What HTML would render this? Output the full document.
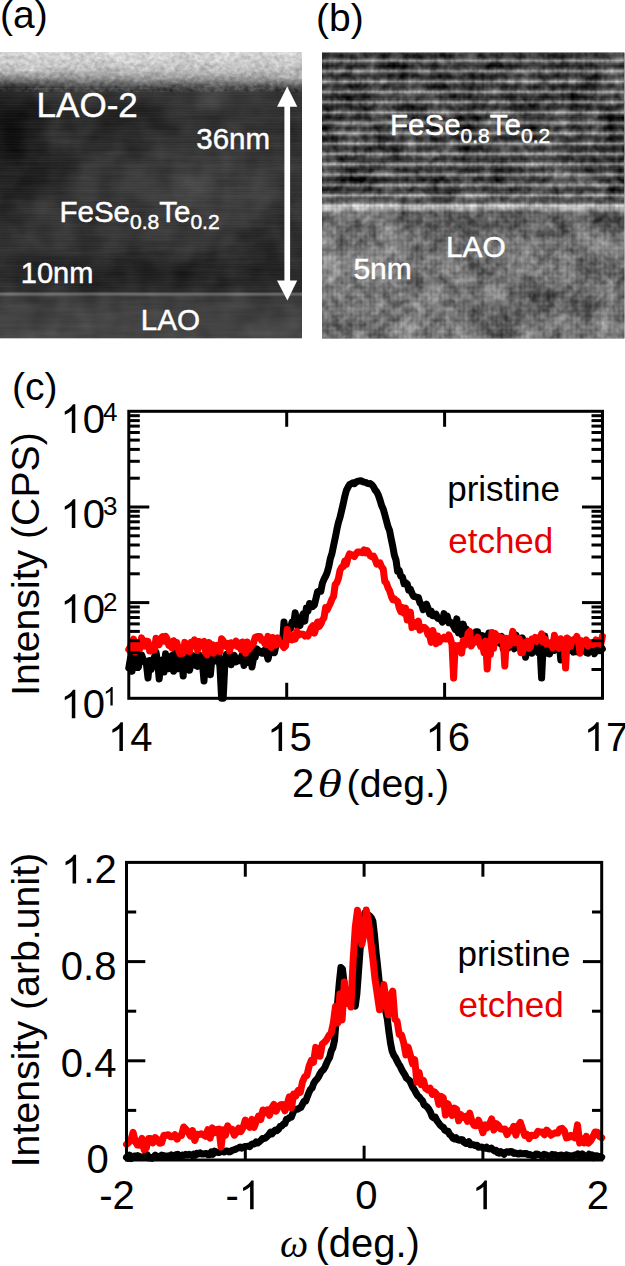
<!DOCTYPE html>
<html><head><meta charset="utf-8"><style>
html,body{margin:0;padding:0;background:#fff;width:625px;height:1266px;overflow:hidden}
svg{display:block}
text{font-family:"Liberation Sans", sans-serif}
text[fill="#fff"]{stroke:#fff;stroke-width:0.45px}
</style></head><body>
<svg width="625" height="1266" viewBox="0 0 625 1266">
<defs>
<filter id="grainA" x="0" y="0" width="100%" height="100%" color-interpolation-filters="sRGB"><feTurbulence type="fractalNoise" baseFrequency="0.015 0.25" numOctaves="3" seed="3" result="n"/><feColorMatrix in="n" type="matrix" values="1 0 0 0 0  1 0 0 0 0  1 0 0 0 0  0 0 0 0 1" result="g"/><feTurbulence type="fractalNoise" baseFrequency="0.04" numOctaves="2" seed="9" result="n2"/><feColorMatrix in="n2" type="matrix" values="1 0 0 0 0  1 0 0 0 0  1 0 0 0 0  0 0 0 0 1" result="g2"/><feComposite in="SourceGraphic" in2="g" operator="arithmetic" k1="0" k2="1" k3="0.06" k4="-0.03" result="s1"/><feComposite in="s1" in2="g2" operator="arithmetic" k1="0" k2="1" k3="0.12" k4="-0.06"/></filter>
<filter id="grainB" x="0" y="0" width="100%" height="100%" color-interpolation-filters="sRGB"><feTurbulence type="fractalNoise" baseFrequency="0.13" numOctaves="2" seed="5" result="n"/><feColorMatrix in="n" type="matrix" values="1 0 0 0 0  1 0 0 0 0  1 0 0 0 0  0 0 0 0 1" result="g"/><feTurbulence type="fractalNoise" baseFrequency="0.035" numOctaves="2" seed="12" result="n2"/><feColorMatrix in="n2" type="matrix" values="1 0 0 0 0  1 0 0 0 0  1 0 0 0 0  0 0 0 0 1" result="g2"/><feComposite in="SourceGraphic" in2="g" operator="arithmetic" k1="0" k2="1" k3="0.4" k4="-0.2" result="s1"/><feComposite in="s1" in2="g2" operator="arithmetic" k1="0" k2="1" k3="0.42" k4="-0.21"/></filter>
<filter id="fineA" x="0" y="0" width="100%" height="100%" color-interpolation-filters="sRGB"><feTurbulence type="fractalNoise" baseFrequency="0.2 0.25" numOctaves="2" seed="21" result="n"/><feColorMatrix in="n" type="matrix" values="1 0 0 0 0  1 0 0 0 0  1 0 0 0 0  0 0 0 0 1" result="g"/><feComposite in="SourceGraphic" in2="g" operator="arithmetic" k1="0" k2="1" k3="0.3" k4="-0.15"/></filter>
</defs>
<rect width="625" height="1266" fill="#fff"/>
<clipPath id="ca"><rect x="0" y="52" width="302" height="286.5"/></clipPath>
<g clip-path="url(#ca)"><g filter="url(#grainA)">
<linearGradient id="ga" x1="0" y1="52" x2="0" y2="338.5" gradientUnits="userSpaceOnUse"><stop offset="0.0000" stop-color="#d6d6d6"/><stop offset="0.0349" stop-color="#cacaca"/><stop offset="0.0698" stop-color="#b8b8b8"/><stop offset="0.0873" stop-color="#a6a6a6"/><stop offset="0.1012" stop-color="#8e8e8e"/><stop offset="0.1152" stop-color="#686868"/><stop offset="0.1291" stop-color="#464646"/><stop offset="0.1431" stop-color="#333333"/><stop offset="0.2024" stop-color="#2e2e2e"/><stop offset="0.5166" stop-color="#333333"/><stop offset="0.6911" stop-color="#303030"/><stop offset="0.8168" stop-color="#282828"/><stop offset="0.8360" stop-color="#2e2e2e"/><stop offset="0.8447" stop-color="#727272"/><stop offset="0.8551" stop-color="#3a3a3a"/><stop offset="0.9005" stop-color="#424242"/><stop offset="1.0000" stop-color="#464646"/></linearGradient>
<rect x="0" y="52" width="302" height="286.5" fill="url(#ga)"/>
<radialGradient id="dk"><stop offset="0" stop-color="#000" stop-opacity="0.6"/><stop offset="0.6" stop-color="#000" stop-opacity="0.3"/><stop offset="1" stop-color="#000" stop-opacity="0"/></radialGradient>
<radialGradient id="lt"><stop offset="0" stop-color="#fff" stop-opacity="0.07"/><stop offset="1" stop-color="#fff" stop-opacity="0"/></radialGradient>
<linearGradient id="topL" x1="0" y1="0" x2="1" y2="0"><stop offset="0" stop-color="#000" stop-opacity="0.35"/><stop offset="0.5" stop-color="#000" stop-opacity="0.1"/><stop offset="1" stop-color="#000" stop-opacity="0"/></linearGradient>
<linearGradient id="topV" x1="0" y1="0" x2="0" y2="1"><stop offset="0" stop-color="#fff" stop-opacity="0"/><stop offset="1" stop-color="#fff" stop-opacity="1"/></linearGradient>
<mask id="tm" maskUnits="userSpaceOnUse" x="0" y="70" width="302" height="18"><rect x="0" y="70" width="302" height="18" fill="url(#topV)"/></mask>
<rect x="0" y="52" width="302" height="40" fill="url(#ga)" filter="url(#fineA)"/>
<rect x="0" y="70" width="302" height="18" fill="url(#topL)" mask="url(#tm)"/>
<ellipse cx="8" cy="160" rx="45" ry="85" fill="url(#dk)" opacity="0.8"/>
<ellipse cx="12" cy="125" rx="45" ry="45" fill="url(#dk)" opacity="0.9"/>
<ellipse cx="45" cy="165" rx="40" ry="28" fill="url(#dk)" opacity="0.6"/>
<ellipse cx="120" cy="125" rx="80" ry="35" fill="url(#dk)" opacity="0.45"/>
<ellipse cx="150" cy="272" rx="180" ry="22" fill="url(#dk)" opacity="0.5"/>
<ellipse cx="270" cy="250" rx="45" ry="40" fill="url(#dk)" opacity="0.5"/>
<ellipse cx="200" cy="190" rx="110" ry="70" fill="url(#lt)"/>
<ellipse cx="210" cy="100" rx="60" ry="18" fill="url(#lt)"/>
<pattern id="scan" x="0" y="0" width="8" height="2.6" patternUnits="userSpaceOnUse"><rect x="0" y="0" width="8" height="1" fill="#fff" opacity="0.035"/></pattern>
<rect x="0" y="90" width="302" height="200" fill="url(#scan)"/>
</g></g>
<rect x="284.4" y="100" width="5.7" height="186" fill="#fff"/>
<polygon points="287.2,86.5 277.1,106.7 297.3,106.7" fill="#fff"/>
<polygon points="287.4,300.5 277,280.5 297.2,280.5" fill="#fff"/>
<text x="36.6" y="116.5" font-size="35" fill="#fff" >LAO-2</text>
<text x="196.3" y="149.2" font-size="29.5" fill="#fff" >36nm</text>
<text x="59.5" y="221.7" font-size="29.5" fill="#fff" >FeSe<tspan font-size="21" dy="7.2">0.8</tspan><tspan dy="-7.2">Te</tspan><tspan font-size="21" dy="7.2">0.2</tspan></text>
<text x="20.8" y="282.6" font-size="29" fill="#fff" >10nm</text>
<text x="140.8" y="330" font-size="29.6" fill="#fff" >LAO</text>
<clipPath id="cb"><rect x="322" y="52.5" width="302.5" height="286"/></clipPath>
<g clip-path="url(#cb)"><g filter="url(#grainB)">
<linearGradient id="gb" x1="0" y1="52.5" x2="0" y2="338.5" gradientUnits="userSpaceOnUse"><stop offset="0.0000" stop-color="#2c2c2c"/><stop offset="0.4563" stop-color="#2e2e2e"/><stop offset="0.4913" stop-color="#3a3a3a"/><stop offset="0.5227" stop-color="#5a5a5a"/><stop offset="0.5350" stop-color="#cacaca"/><stop offset="0.5455" stop-color="#b0b0b0"/><stop offset="0.5612" stop-color="#666666"/><stop offset="0.5927" stop-color="#5e5e5e"/><stop offset="0.6556" stop-color="#7a7a7a"/><stop offset="1.0000" stop-color="#787878"/></linearGradient>
<rect x="322" y="52.5" width="302.5" height="286" fill="url(#gb)"/>
<linearGradient id="fr" x1="0" y1="0" x2="0" y2="1"><stop offset="0" stop-color="#000" stop-opacity="0.25"/><stop offset="0.22" stop-color="#fff" stop-opacity="0.08"/><stop offset="0.5" stop-color="#fff" stop-opacity="0.52"/><stop offset="0.78" stop-color="#fff" stop-opacity="0.08"/><stop offset="1" stop-color="#000" stop-opacity="0.25"/></linearGradient>
<pattern id="fringe" x="322" y="55.625" width="302.5" height="10.35" patternUnits="userSpaceOnUse"><rect width="302.5" height="10.35" fill="url(#fr)"/></pattern>
<linearGradient id="fmask" x1="0" y1="52.5" x2="0" y2="338.5" gradientUnits="userSpaceOnUse"><stop offset="0.0000" stop-color="#fff"/><stop offset="0.5017" stop-color="#fff"/><stop offset="0.5262" stop-color="#fff" stop-opacity="0"/></linearGradient>
<mask id="fm" maskUnits="userSpaceOnUse" x="322" y="52.5" width="302.5" height="286"><rect x="322" y="52.5" width="302.5" height="286" fill="url(#fmask)"/></mask>
<rect x="322" y="52.5" width="302.5" height="286" fill="url(#fringe)" mask="url(#fm)"/>
<radialGradient id="ltb"><stop offset="0" stop-color="#fff" stop-opacity="0.14"/><stop offset="1" stop-color="#fff" stop-opacity="0"/></radialGradient>
<radialGradient id="dkb"><stop offset="0" stop-color="#000" stop-opacity="0.22"/><stop offset="1" stop-color="#000" stop-opacity="0"/></radialGradient>
<ellipse cx="370" cy="250" rx="70" ry="45" fill="url(#ltb)"/>
<ellipse cx="520" cy="310" rx="80" ry="40" fill="url(#dkb)"/>
<ellipse cx="560" cy="175" rx="50" ry="25" fill="url(#ltb)"/>
<ellipse cx="440" cy="330" rx="60" ry="20" fill="url(#ltb)"/>
<pattern id="cols" x="322" y="0" width="4.7" height="4.7" patternUnits="userSpaceOnUse"><rect x="0" y="0" width="1.8" height="4.7" fill="#000" opacity="0.08"/><rect x="0" y="0" width="4.7" height="1.6" fill="#000" opacity="0.05"/></pattern>
<rect x="322" y="52.5" width="302.5" height="286" fill="url(#cols)"/>
</g></g>
<text x="390.1" y="135.2" font-size="29.5" fill="#fff" >FeSe<tspan font-size="21" dy="7.5">0.8</tspan><tspan dy="-7.5">Te</tspan><tspan font-size="21" dy="7.5">0.2</tspan></text>
<text x="446" y="256.6" font-size="29.8" fill="#fff" >LAO</text>
<text x="353.4" y="279" font-size="30" fill="#fff" >5nm</text>
<polyline points="128.8,667.9 130.4,658.6 132.0,671.2 133.6,650.0 135.2,661.9 136.8,657.3 138.4,667.1 140.0,657.3 141.6,654.9 143.2,659.2 144.8,661.9 146.4,664.1 148.0,678.0 149.6,660.6 151.2,669.5 152.8,660.6 154.4,657.3 156.0,652.1 157.6,661.9 159.2,679.0 160.8,661.9 162.4,659.9 164.0,672.1 165.6,653.8 167.2,662.6 168.8,668.7 170.4,659.9 172.0,655.5 173.6,671.2 175.2,652.1 176.8,654.4 178.4,668.7 180.0,662.6 181.6,659.2 183.2,676.0 184.8,650.0 186.4,659.9 188.0,655.5 189.6,670.3 191.2,663.3 192.8,655.5 194.4,656.7 196.0,665.5 197.6,666.3 199.2,654.9 200.8,661.2 202.4,663.3 204.0,681.0 205.6,656.7 207.2,658.6 208.8,656.7 210.4,674.8 212.0,657.3 213.6,661.2 215.2,660.6 216.8,661.2 218.4,650.5 220.0,667.9 221.6,698.3 223.2,698.3 224.8,664.8 226.4,654.4 228.0,653.8 229.6,653.2 231.2,664.8 232.8,657.3 234.4,655.5 236.0,661.9 237.6,659.2 239.2,660.6 240.8,658.0 242.4,654.4 244.0,665.5 245.6,655.5 247.2,662.6 248.8,652.1 250.4,648.9 252.0,667.0 253.6,658.0 255.2,657.3 256.8,648.9 258.4,651.6 260.0,651.0 261.6,653.2 263.2,653.2 264.8,650.0 266.4,652.7 268.0,659.2 269.6,652.7 271.2,648.9 272.8,650.0 274.4,652.7 276.0,645.5 277.6,642.4 279.2,639.9 280.8,642.4 282.4,643.7 284.0,622.0 285.6,636.7 287.2,632.8 288.8,627.0 290.4,628.9 292.0,622.0 293.6,624.4 295.2,612.7 296.8,624.7 298.4,619.4 300.0,625.6 301.6,617.5 303.2,613.8 304.8,621.2 306.4,607.9 308.0,611.1 309.6,603.5 311.2,604.0 312.8,606.5 314.4,605.0 316.0,598.2 317.6,591.6 319.2,591.2 320.8,591.2 322.4,583.2 324.0,579.2 325.6,576.3 327.2,572.4 328.8,566.3 330.4,558.3 332.0,553.4 333.6,545.5 335.2,538.1 336.8,529.8 338.4,522.5 340.0,517.5 341.6,510.6 343.2,503.9 344.8,496.3 346.4,490.4 348.0,487.2 349.6,484.6 351.2,483.7 352.8,482.8 354.4,483.7 356.0,482.1 357.6,481.2 359.2,481.0 360.8,480.7 362.4,481.5 364.0,482.1 365.6,482.4 367.2,483.3 368.8,483.7 370.4,483.6 372.0,484.9 373.6,487.0 375.2,490.1 376.8,491.9 378.4,495.3 380.0,500.0 381.6,505.5 383.2,508.9 384.8,514.6 386.4,520.6 388.0,526.6 389.6,530.6 391.2,539.0 392.8,546.5 394.4,555.4 396.0,560.0 397.6,571.3 399.2,570.4 400.8,576.4 402.4,576.8 404.0,583.6 405.6,582.6 407.2,583.9 408.8,590.3 410.4,589.1 412.0,593.4 413.6,596.5 415.2,596.6 416.8,597.3 418.4,597.5 420.0,603.0 421.6,604.5 423.2,609.7 424.8,606.5 426.4,604.2 428.0,608.1 429.6,613.8 431.2,611.1 432.8,615.8 434.4,615.6 436.0,614.3 437.6,618.2 439.2,618.9 440.8,619.1 442.4,622.2 444.0,613.6 445.6,617.5 447.2,616.1 448.8,622.8 450.4,622.0 452.0,623.9 453.6,626.1 455.2,629.5 456.8,618.9 458.4,632.8 460.0,630.8 461.6,634.5 463.2,624.1 464.8,630.1 466.4,629.2 468.0,633.8 469.6,639.5 471.2,637.5 472.8,636.7 474.4,637.1 476.0,631.8 477.6,631.8 479.2,640.7 480.8,640.7 482.4,635.6 484.0,641.1 485.6,648.9 487.2,637.5 488.8,633.1 490.4,644.2 492.0,638.3 493.6,637.9 495.2,638.3 496.8,640.3 498.4,641.5 500.0,643.3 501.6,636.4 503.2,648.9 504.8,640.7 506.4,639.1 508.0,648.4 509.6,642.0 511.2,640.3 512.8,636.7 514.4,648.9 516.0,634.9 517.6,644.6 519.2,646.0 520.8,642.0 522.4,637.9 524.0,645.5 525.6,657.3 527.2,646.5 528.8,641.5 530.4,642.4 532.0,653.2 533.6,647.9 535.2,644.2 536.8,643.3 538.4,652.7 540.0,647.0 541.6,678.0 543.2,645.1 544.8,636.0 546.4,653.2 548.0,648.9 549.6,653.8 551.2,648.9 552.8,643.3 554.4,650.5 556.0,648.4 557.6,645.5 559.2,642.4 560.8,659.9 562.4,646.5 564.0,643.3 565.6,648.9 567.2,644.6 568.8,639.5 570.4,650.5 572.0,642.4 573.6,652.1 575.2,648.4 576.8,651.6 578.4,641.1 580.0,642.8 581.6,647.5 583.2,645.1 584.8,650.0 586.4,652.7 588.0,653.2 589.6,646.0 591.2,648.4 592.8,647.0 594.4,653.8 596.0,648.4 597.6,641.1 599.2,650.0 600.8,649.5 602.4,648.9" fill="none" stroke="#000" stroke-width="7" stroke-linejoin="round" stroke-linecap="round"/>
<polyline points="128.8,649.5 130.4,647.0 132.0,642.8 133.6,639.1 135.2,652.1 136.8,646.0 138.4,645.5 140.0,648.4 141.6,637.9 143.2,643.3 144.8,646.0 146.4,641.1 148.0,641.5 149.6,651.0 151.2,651.0 152.8,646.0 154.4,650.0 156.0,638.3 157.6,643.7 159.2,644.6 160.8,638.7 162.4,636.7 164.0,641.1 165.6,636.4 167.2,639.1 168.8,645.5 170.4,643.7 172.0,647.9 173.6,640.7 175.2,646.5 176.8,642.4 178.4,649.5 180.0,653.8 181.6,647.5 183.2,653.2 184.8,642.4 186.4,643.7 188.0,650.5 189.6,651.6 191.2,642.4 192.8,645.5 194.4,639.9 196.0,641.5 197.6,650.5 199.2,641.5 200.8,645.1 202.4,642.4 204.0,641.5 205.6,652.7 207.2,654.9 208.8,642.4 210.4,644.6 212.0,644.6 213.6,653.2 215.2,648.4 216.8,645.5 218.4,647.5 220.0,651.6 221.6,638.7 223.2,640.7 224.8,645.1 226.4,646.5 228.0,643.3 229.6,651.0 231.2,642.8 232.8,644.6 234.4,645.1 236.0,641.1 237.6,646.5 239.2,642.8 240.8,649.5 242.4,642.0 244.0,643.3 245.6,653.2 247.2,642.0 248.8,649.5 250.4,647.5 252.0,645.1 253.6,642.8 255.2,637.5 256.8,636.7 258.4,636.4 260.0,636.4 261.6,640.3 263.2,639.9 264.8,643.7 266.4,644.6 268.0,636.4 269.6,640.3 271.2,647.5 272.8,637.5 274.4,641.1 276.0,645.1 277.6,637.9 279.2,642.0 280.8,643.7 282.4,645.5 284.0,647.5 285.6,646.0 287.2,629.5 288.8,639.5 290.4,636.7 292.0,639.9 293.6,635.3 295.2,639.1 296.8,631.4 298.4,635.3 300.0,633.8 301.6,634.2 303.2,634.2 304.8,636.0 306.4,634.9 308.0,636.0 309.6,631.8 311.2,627.9 312.8,625.8 314.4,633.1 316.0,627.9 317.6,622.0 319.2,626.4 320.8,624.1 322.4,620.1 324.0,617.7 325.6,607.6 327.2,609.9 328.8,606.3 330.4,603.3 332.0,599.1 333.6,596.2 335.2,584.6 336.8,582.7 338.4,578.6 340.0,570.4 341.6,567.5 343.2,566.7 344.8,561.0 346.4,564.3 348.0,557.7 349.6,553.9 351.2,554.6 352.8,555.4 354.4,556.5 356.0,553.8 357.6,552.0 359.2,552.0 360.8,552.4 362.4,552.7 364.0,549.9 365.6,552.8 367.2,550.8 368.8,553.2 370.4,555.9 372.0,556.9 373.6,556.2 375.2,559.6 376.8,564.2 378.4,563.3 380.0,562.9 381.6,567.0 383.2,568.8 384.8,581.5 386.4,583.0 388.0,587.6 389.6,590.7 391.2,595.8 392.8,599.7 394.4,598.8 396.0,600.5 397.6,601.3 399.2,607.9 400.8,611.5 402.4,607.4 404.0,613.4 405.6,608.1 407.2,620.1 408.8,617.9 410.4,612.1 412.0,627.6 413.6,622.0 415.2,623.3 416.8,626.7 418.4,621.2 420.0,630.1 421.6,628.2 423.2,627.6 424.8,627.6 426.4,629.2 428.0,634.9 429.6,635.3 431.2,642.4 432.8,630.4 434.4,637.5 436.0,643.7 437.6,636.0 439.2,642.0 440.8,638.3 442.4,639.1 444.0,637.1 445.6,639.1 447.2,639.1 448.8,634.9 450.4,638.7 452.0,644.6 453.6,678.0 455.2,645.5 456.8,646.5 458.4,645.5 460.0,646.0 461.6,653.2 463.2,640.7 464.8,645.1 466.4,644.2 468.0,633.5 469.6,631.4 471.2,646.0 472.8,643.3 474.4,642.4 476.0,640.7 477.6,637.1 479.2,642.0 480.8,646.5 482.4,643.3 484.0,652.7 485.6,641.1 487.2,669.0 488.8,643.3 490.4,654.4 492.0,632.4 493.6,648.4 495.2,633.5 496.8,635.6 498.4,640.3 500.0,636.7 501.6,637.9 503.2,639.9 504.8,666.0 506.4,638.3 508.0,646.0 509.6,645.1 511.2,639.1 512.8,631.4 514.4,642.8 516.0,642.8 517.6,638.3 519.2,638.7 520.8,652.7 522.4,652.7 524.0,642.8 525.6,642.4 527.2,641.1 528.8,648.4 530.4,647.0 532.0,639.1 533.6,641.1 535.2,637.5 536.8,641.5 538.4,637.9 540.0,638.3 541.6,633.8 543.2,642.0 544.8,638.7 546.4,644.2 548.0,643.3 549.6,644.6 551.2,642.4 552.8,647.9 554.4,635.3 556.0,642.0 557.6,639.5 559.2,648.4 560.8,638.7 562.4,641.5 564.0,641.5 565.6,668.0 567.2,637.9 568.8,640.3 570.4,646.5 572.0,640.7 573.6,639.5 575.2,639.9 576.8,636.4 578.4,641.1 580.0,653.2 581.6,640.7 583.2,642.8 584.8,643.7 586.4,639.9 588.0,646.0 589.6,642.4 591.2,643.3 592.8,644.6 594.4,643.7 596.0,639.9 597.6,643.3 599.2,640.7 600.8,644.2 602.4,636.4" fill="none" stroke="#f00" stroke-width="7" stroke-linejoin="round" stroke-linecap="round"/>
<polyline points="126.5,1157.3 128.1,1158.4 129.7,1155.1 131.3,1158.5 132.9,1156.7 134.5,1156.0 136.1,1155.9 137.7,1155.6 139.3,1156.4 140.9,1157.4 142.5,1157.1 144.1,1157.1 145.7,1154.7 147.3,1154.8 148.9,1157.9 150.5,1157.2 152.1,1158.4 153.7,1157.4 155.3,1155.1 156.9,1157.4 158.5,1156.7 160.1,1156.2 161.7,1155.1 163.3,1155.9 164.9,1155.7 166.5,1156.7 168.1,1155.9 169.7,1157.3 171.3,1154.9 172.9,1156.1 174.5,1156.1 176.1,1154.7 177.7,1154.3 179.3,1156.4 180.9,1155.8 182.5,1155.0 184.1,1155.5 185.7,1154.3 187.3,1155.1 188.9,1154.2 190.5,1154.9 192.1,1155.6 193.7,1154.2 195.3,1155.3 196.9,1153.3 198.5,1154.0 200.1,1152.8 201.7,1154.0 203.3,1154.0 204.9,1153.6 206.5,1153.4 208.1,1154.8 209.7,1154.8 211.3,1152.0 212.9,1154.2 214.5,1151.1 216.1,1152.0 217.7,1152.4 219.3,1152.5 220.9,1151.2 222.5,1151.3 224.1,1152.0 225.7,1151.0 227.3,1150.9 228.9,1151.9 230.5,1151.7 232.1,1150.3 233.7,1149.9 235.3,1149.4 236.9,1148.5 238.5,1148.0 240.1,1147.0 241.7,1148.2 243.3,1147.0 244.9,1146.5 246.5,1146.4 248.1,1146.2 249.7,1146.7 251.3,1144.5 252.9,1143.9 254.5,1143.9 256.1,1141.9 257.7,1143.0 259.3,1141.7 260.9,1140.4 262.5,1138.6 264.1,1138.5 265.7,1137.9 267.3,1136.3 268.9,1134.6 270.5,1132.2 272.1,1133.8 273.7,1131.5 275.3,1130.0 276.9,1130.8 278.5,1129.3 280.1,1126.5 281.7,1126.1 283.3,1124.2 284.9,1123.7 286.5,1119.1 288.1,1118.9 289.7,1117.5 291.3,1117.3 292.9,1113.1 294.5,1109.5 296.1,1109.3 297.7,1109.3 299.3,1108.1 300.9,1107.3 302.5,1104.2 304.1,1101.3 305.7,1101.2 307.3,1096.7 308.9,1092.5 310.5,1089.2 312.1,1088.0 313.7,1083.4 315.3,1080.8 316.9,1079.3 318.5,1076.9 320.1,1073.6 321.7,1071.1 323.3,1069.8 324.9,1067.4 326.5,1063.4 328.1,1060.0 329.7,1057.2 331.3,1050.7 332.9,1047.8 334.5,1040.5 336.1,1021.3 337.7,1001.6 339.3,982.5 340.9,967.6 342.5,969.1 344.1,982.8 345.7,996.6 347.3,1000.3 348.9,999.8 350.5,1002.0 352.1,1003.8 353.7,1003.8 355.3,1006.1 356.9,993.8 358.5,972.3 360.1,949.6 361.7,936.3 363.3,924.2 364.9,913.0 366.5,914.8 368.1,914.9 369.7,916.0 371.3,917.6 372.9,921.1 374.5,934.9 376.1,952.6 377.7,966.9 379.3,982.7 380.9,991.2 382.5,997.9 384.1,1003.6 385.7,1011.4 387.3,1018.9 388.9,1031.9 390.5,1043.0 392.1,1051.0 393.7,1055.1 395.3,1057.3 396.9,1060.6 398.5,1063.7 400.1,1066.1 401.7,1069.7 403.3,1072.3 404.9,1074.9 406.5,1078.1 408.1,1079.4 409.7,1080.7 411.3,1084.3 412.9,1087.6 414.5,1090.0 416.1,1093.1 417.7,1095.8 419.3,1097.0 420.9,1099.3 422.5,1100.6 424.1,1104.9 425.7,1105.8 427.3,1107.2 428.9,1109.4 430.5,1112.3 432.1,1116.5 433.7,1117.9 435.3,1117.2 436.9,1120.6 438.5,1122.8 440.1,1125.0 441.7,1126.5 443.3,1127.3 444.9,1130.2 446.5,1131.0 448.1,1131.2 449.7,1134.5 451.3,1135.7 452.9,1138.1 454.5,1139.0 456.1,1137.7 457.7,1139.7 459.3,1140.3 460.9,1139.6 462.5,1139.7 464.1,1142.4 465.7,1143.4 467.3,1143.4 468.9,1141.7 470.5,1144.8 472.1,1144.6 473.7,1144.7 475.3,1145.6 476.9,1145.2 478.5,1147.3 480.1,1147.1 481.7,1146.9 483.3,1148.1 484.9,1148.2 486.5,1147.1 488.1,1148.8 489.7,1148.9 491.3,1148.0 492.9,1149.5 494.5,1150.9 496.1,1150.3 497.7,1152.7 499.3,1153.3 500.9,1151.7 502.5,1152.7 504.1,1154.3 505.7,1152.1 507.3,1151.7 508.9,1152.3 510.5,1151.5 512.1,1151.7 513.7,1153.4 515.3,1152.9 516.9,1153.7 518.5,1154.1 520.1,1153.0 521.7,1153.7 523.3,1153.7 524.9,1153.5 526.5,1153.5 528.1,1154.8 529.7,1154.4 531.3,1155.1 532.9,1155.9 534.5,1156.0 536.1,1153.9 537.7,1154.2 539.3,1154.9 540.9,1155.3 542.5,1156.1 544.1,1154.3 545.7,1154.8 547.3,1155.5 548.9,1156.6 550.5,1156.7 552.1,1154.4 553.7,1155.2 555.3,1154.7 556.9,1156.3 558.5,1156.0 560.1,1155.2 561.7,1155.0 563.3,1155.9 564.9,1156.7 566.5,1154.9 568.1,1155.4 569.7,1155.9 571.3,1155.8 572.9,1156.2 574.5,1154.9 576.1,1155.3 577.7,1153.9 579.3,1156.1 580.9,1157.1 582.5,1154.0 584.1,1155.5 585.7,1157.0 587.3,1156.0 588.9,1154.3 590.5,1157.4 592.1,1154.9 593.7,1157.7 595.3,1155.8 596.9,1155.7 598.5,1156.4 600.1,1156.4 601.7,1157.1" fill="none" stroke="#000" stroke-width="7" stroke-linejoin="round" stroke-linecap="round"/>
<polyline points="126.5,1144.4 128.7,1142.6 130.9,1140.0 133.1,1132.3 135.3,1141.6 137.5,1145.1 139.7,1145.3 141.9,1138.3 144.1,1149.6 146.3,1148.0 148.5,1138.6 150.7,1138.5 152.9,1142.9 155.1,1137.6 157.3,1139.3 159.5,1143.2 161.7,1142.8 163.9,1135.3 166.1,1135.4 168.3,1134.7 170.5,1136.7 172.7,1136.8 174.9,1134.6 177.1,1139.2 179.3,1135.9 181.5,1135.5 183.7,1127.0 185.9,1129.2 188.1,1131.8 190.3,1136.0 192.5,1130.6 194.7,1140.5 196.9,1134.3 199.1,1134.5 201.3,1133.7 203.5,1135.0 205.7,1136.3 207.9,1129.7 210.1,1138.2 212.3,1127.9 214.5,1132.9 216.7,1129.4 218.9,1129.1 221.1,1147.0 223.3,1129.8 225.5,1135.3 227.7,1125.9 229.9,1129.7 232.1,1129.3 234.3,1135.2 236.5,1132.5 238.7,1128.1 240.9,1131.6 243.1,1127.5 245.3,1120.1 247.5,1124.1 249.7,1127.3 251.9,1119.4 254.1,1127.4 256.3,1121.3 258.5,1116.1 260.7,1119.6 262.9,1110.0 265.1,1112.6 267.3,1110.0 269.5,1115.3 271.7,1107.9 273.9,1104.5 276.1,1111.2 278.3,1106.8 280.5,1104.8 282.7,1104.6 284.9,1110.8 287.1,1104.7 289.3,1096.8 291.5,1107.8 293.7,1094.1 295.9,1096.0 298.1,1090.6 300.3,1092.4 302.5,1081.9 304.7,1076.8 306.9,1075.5 309.1,1066.1 311.3,1060.4 313.5,1062.2 315.7,1047.4 317.9,1052.2 320.1,1056.2 322.3,1043.9 324.5,1042.1 326.7,1039.7 328.9,1035.5 331.1,1033.2 333.3,1023.1 335.5,1006.4 337.7,1023.0 339.9,993.9 342.1,1019.9 344.3,982.1 346.5,1003.4 348.7,993.5 350.9,1007.0 353.1,960.7 355.3,927.0 357.5,910.2 359.7,923.7 361.9,944.3 364.1,932.9 366.3,910.1 368.5,921.5 370.7,940.8 372.9,959.1 375.1,979.8 377.3,994.7 379.5,1009.7 381.7,1004.8 383.9,984.6 386.1,1001.2 388.3,1014.9 390.5,995.5 392.7,991.1 394.9,1019.2 397.1,1021.3 399.3,1034.7 401.5,1035.0 403.7,1042.8 405.9,1054.9 408.1,1047.0 410.3,1055.0 412.5,1063.6 414.7,1059.6 416.9,1082.1 419.1,1072.3 421.3,1084.7 423.5,1080.4 425.7,1088.6 427.9,1089.9 430.1,1088.1 432.3,1094.4 434.5,1091.9 436.7,1094.4 438.9,1104.4 441.1,1096.3 443.3,1097.9 445.5,1115.0 447.7,1103.6 449.9,1108.2 452.1,1115.4 454.3,1108.0 456.5,1109.2 458.7,1120.8 460.9,1114.6 463.1,1117.4 465.3,1116.4 467.5,1121.4 469.7,1113.1 471.9,1121.1 474.1,1125.3 476.3,1125.8 478.5,1120.2 480.7,1125.7 482.9,1132.7 485.1,1124.8 487.3,1127.8 489.5,1124.1 491.7,1119.0 493.9,1130.0 496.1,1123.5 498.3,1125.3 500.5,1129.1 502.7,1129.2 504.9,1129.1 507.1,1134.6 509.3,1130.8 511.5,1130.8 513.7,1126.4 515.9,1135.1 518.1,1126.2 520.3,1122.4 522.5,1128.8 524.7,1135.5 526.9,1134.4 529.1,1138.6 531.3,1135.3 533.5,1135.5 535.7,1135.4 537.9,1131.3 540.1,1132.1 542.3,1132.1 544.5,1134.8 546.7,1130.1 548.9,1132.2 551.1,1135.2 553.3,1133.7 555.5,1132.8 557.7,1133.1 559.9,1128.8 562.1,1128.3 564.3,1130.6 566.5,1138.0 568.7,1137.3 570.9,1135.4 573.1,1137.0 575.3,1137.9 577.5,1124.9 579.7,1143.0 581.9,1138.7 584.1,1142.8 586.3,1136.4 588.5,1143.1 590.7,1140.9 592.9,1136.8 595.1,1132.0 597.3,1132.3 599.5,1136.5 601.7,1137.8" fill="none" stroke="#f00" stroke-width="7" stroke-linejoin="round" stroke-linecap="round"/>
<rect x="128.8" y="411.3" width="473.7" height="286.99999999999994" fill="none" stroke="#000" stroke-width="3"/>
<line x1="128.8" y1="669.5" x2="139.8" y2="669.5" stroke="#000" stroke-width="3"/>
<line x1="602.5" y1="669.5" x2="591.5" y2="669.5" stroke="#000" stroke-width="3"/>
<line x1="128.8" y1="652.7" x2="139.8" y2="652.7" stroke="#000" stroke-width="3"/>
<line x1="602.5" y1="652.7" x2="591.5" y2="652.7" stroke="#000" stroke-width="3"/>
<line x1="128.8" y1="640.7" x2="139.8" y2="640.7" stroke="#000" stroke-width="3"/>
<line x1="602.5" y1="640.7" x2="591.5" y2="640.7" stroke="#000" stroke-width="3"/>
<line x1="128.8" y1="631.4" x2="139.8" y2="631.4" stroke="#000" stroke-width="3"/>
<line x1="602.5" y1="631.4" x2="591.5" y2="631.4" stroke="#000" stroke-width="3"/>
<line x1="128.8" y1="623.9" x2="139.8" y2="623.9" stroke="#000" stroke-width="3"/>
<line x1="602.5" y1="623.9" x2="591.5" y2="623.9" stroke="#000" stroke-width="3"/>
<line x1="128.8" y1="617.5" x2="139.8" y2="617.5" stroke="#000" stroke-width="3"/>
<line x1="602.5" y1="617.5" x2="591.5" y2="617.5" stroke="#000" stroke-width="3"/>
<line x1="128.8" y1="611.9" x2="139.8" y2="611.9" stroke="#000" stroke-width="3"/>
<line x1="602.5" y1="611.9" x2="591.5" y2="611.9" stroke="#000" stroke-width="3"/>
<line x1="128.8" y1="607.0" x2="139.8" y2="607.0" stroke="#000" stroke-width="3"/>
<line x1="602.5" y1="607.0" x2="591.5" y2="607.0" stroke="#000" stroke-width="3"/>
<line x1="128.8" y1="602.6" x2="149.3" y2="602.6" stroke="#000" stroke-width="3"/>
<line x1="602.5" y1="602.6" x2="582.0" y2="602.6" stroke="#000" stroke-width="3"/>
<line x1="128.8" y1="573.8" x2="139.8" y2="573.8" stroke="#000" stroke-width="3"/>
<line x1="602.5" y1="573.8" x2="591.5" y2="573.8" stroke="#000" stroke-width="3"/>
<line x1="128.8" y1="557.0" x2="139.8" y2="557.0" stroke="#000" stroke-width="3"/>
<line x1="602.5" y1="557.0" x2="591.5" y2="557.0" stroke="#000" stroke-width="3"/>
<line x1="128.8" y1="545.0" x2="139.8" y2="545.0" stroke="#000" stroke-width="3"/>
<line x1="602.5" y1="545.0" x2="591.5" y2="545.0" stroke="#000" stroke-width="3"/>
<line x1="128.8" y1="535.8" x2="139.8" y2="535.8" stroke="#000" stroke-width="3"/>
<line x1="602.5" y1="535.8" x2="591.5" y2="535.8" stroke="#000" stroke-width="3"/>
<line x1="128.8" y1="528.2" x2="139.8" y2="528.2" stroke="#000" stroke-width="3"/>
<line x1="602.5" y1="528.2" x2="591.5" y2="528.2" stroke="#000" stroke-width="3"/>
<line x1="128.8" y1="521.8" x2="139.8" y2="521.8" stroke="#000" stroke-width="3"/>
<line x1="602.5" y1="521.8" x2="591.5" y2="521.8" stroke="#000" stroke-width="3"/>
<line x1="128.8" y1="516.2" x2="139.8" y2="516.2" stroke="#000" stroke-width="3"/>
<line x1="602.5" y1="516.2" x2="591.5" y2="516.2" stroke="#000" stroke-width="3"/>
<line x1="128.8" y1="511.3" x2="139.8" y2="511.3" stroke="#000" stroke-width="3"/>
<line x1="602.5" y1="511.3" x2="591.5" y2="511.3" stroke="#000" stroke-width="3"/>
<line x1="128.8" y1="507.0" x2="149.3" y2="507.0" stroke="#000" stroke-width="3"/>
<line x1="602.5" y1="507.0" x2="582.0" y2="507.0" stroke="#000" stroke-width="3"/>
<line x1="128.8" y1="478.2" x2="139.8" y2="478.2" stroke="#000" stroke-width="3"/>
<line x1="602.5" y1="478.2" x2="591.5" y2="478.2" stroke="#000" stroke-width="3"/>
<line x1="128.8" y1="461.3" x2="139.8" y2="461.3" stroke="#000" stroke-width="3"/>
<line x1="602.5" y1="461.3" x2="591.5" y2="461.3" stroke="#000" stroke-width="3"/>
<line x1="128.8" y1="449.4" x2="139.8" y2="449.4" stroke="#000" stroke-width="3"/>
<line x1="602.5" y1="449.4" x2="591.5" y2="449.4" stroke="#000" stroke-width="3"/>
<line x1="128.8" y1="440.1" x2="139.8" y2="440.1" stroke="#000" stroke-width="3"/>
<line x1="602.5" y1="440.1" x2="591.5" y2="440.1" stroke="#000" stroke-width="3"/>
<line x1="128.8" y1="432.5" x2="139.8" y2="432.5" stroke="#000" stroke-width="3"/>
<line x1="602.5" y1="432.5" x2="591.5" y2="432.5" stroke="#000" stroke-width="3"/>
<line x1="128.8" y1="426.1" x2="139.8" y2="426.1" stroke="#000" stroke-width="3"/>
<line x1="602.5" y1="426.1" x2="591.5" y2="426.1" stroke="#000" stroke-width="3"/>
<line x1="128.8" y1="420.6" x2="139.8" y2="420.6" stroke="#000" stroke-width="3"/>
<line x1="602.5" y1="420.6" x2="591.5" y2="420.6" stroke="#000" stroke-width="3"/>
<line x1="128.8" y1="415.7" x2="139.8" y2="415.7" stroke="#000" stroke-width="3"/>
<line x1="602.5" y1="415.7" x2="591.5" y2="415.7" stroke="#000" stroke-width="3"/>
<line x1="286.7" y1="411.3" x2="286.7" y2="426.8" stroke="#000" stroke-width="3"/>
<line x1="286.7" y1="698.3" x2="286.7" y2="682.8" stroke="#000" stroke-width="3"/>
<line x1="444.6" y1="411.3" x2="444.6" y2="426.8" stroke="#000" stroke-width="3"/>
<line x1="444.6" y1="698.3" x2="444.6" y2="682.8" stroke="#000" stroke-width="3"/>
<rect x="126.5" y="862.4" width="475.20000000000005" height="297.6" fill="none" stroke="#000" stroke-width="3"/>
<line x1="126.5" y1="1110.4" x2="136.2" y2="1110.4" stroke="#000" stroke-width="3"/>
<line x1="601.7" y1="1110.4" x2="592.0" y2="1110.4" stroke="#000" stroke-width="3"/>
<line x1="126.5" y1="1060.8" x2="145.3" y2="1060.8" stroke="#000" stroke-width="3"/>
<line x1="601.7" y1="1060.8" x2="582.9000000000001" y2="1060.8" stroke="#000" stroke-width="3"/>
<line x1="126.5" y1="1011.2" x2="136.2" y2="1011.2" stroke="#000" stroke-width="3"/>
<line x1="601.7" y1="1011.2" x2="592.0" y2="1011.2" stroke="#000" stroke-width="3"/>
<line x1="126.5" y1="961.6" x2="145.3" y2="961.6" stroke="#000" stroke-width="3"/>
<line x1="601.7" y1="961.6" x2="582.9000000000001" y2="961.6" stroke="#000" stroke-width="3"/>
<line x1="126.5" y1="912.0" x2="136.2" y2="912.0" stroke="#000" stroke-width="3"/>
<line x1="601.7" y1="912.0" x2="592.0" y2="912.0" stroke="#000" stroke-width="3"/>
<line x1="245.3" y1="862.4" x2="245.3" y2="876.6999999999999" stroke="#000" stroke-width="3"/>
<line x1="245.3" y1="1160.0" x2="245.3" y2="1145.7" stroke="#000" stroke-width="3"/>
<line x1="364.1" y1="862.4" x2="364.1" y2="876.6999999999999" stroke="#000" stroke-width="3"/>
<line x1="364.1" y1="1160.0" x2="364.1" y2="1145.7" stroke="#000" stroke-width="3"/>
<line x1="482.9" y1="862.4" x2="482.9" y2="876.6999999999999" stroke="#000" stroke-width="3"/>
<line x1="482.9" y1="1160.0" x2="482.9" y2="1145.7" stroke="#000" stroke-width="3"/>
<text x="0" y="28.3" font-size="39" fill="#000" >(a)</text>
<text x="316" y="31.2" font-size="39" fill="#000" >(b)</text>
<text x="12" y="400.3" font-size="39" fill="#000" >(c)</text>
<path d="M75.30,433.00 L71.79,433.00 L71.79,410.60 Q70.52,411.81 68.45,413.02 Q66.40,414.23 64.76,414.84 L64.76,411.44 Q67.70,410.05 69.91,408.08 Q72.12,406.11 73.04,404.37 L75.30,404.37Z" fill="#000"/><text x="82.65" y="433" font-size="40" fill="#000">0</text>
<text x="103.00" y="420.7" font-size="26" fill="#000">4</text>
<path d="M75.30,528.00 L71.79,528.00 L71.79,505.60 Q70.52,506.81 68.45,508.02 Q66.40,509.23 64.76,509.84 L64.76,506.44 Q67.70,505.05 69.91,503.08 Q72.12,501.11 73.04,499.37 L75.30,499.37Z" fill="#000"/><text x="82.65" y="528" font-size="40" fill="#000">0</text>
<text x="103.00" y="515.3" font-size="26" fill="#000">3</text>
<path d="M75.30,622.90 L71.79,622.90 L71.79,600.50 Q70.52,601.71 68.45,602.92 Q66.40,604.13 64.76,604.74 L64.76,601.34 Q67.70,599.95 69.91,597.98 Q72.12,596.01 73.04,594.27 L75.30,594.27Z" fill="#000"/><text x="82.65" y="622.9" font-size="40" fill="#000">0</text>
<text x="103.00" y="611.4" font-size="26" fill="#000">2</text>
<path d="M75.30,718.30 L71.79,718.30 L71.79,695.90 Q70.52,697.11 68.45,698.32 Q66.40,699.53 64.76,700.14 L64.76,696.74 Q67.70,695.35 69.91,693.38 Q72.12,691.41 73.04,689.67 L75.30,689.67Z" fill="#000"/><text x="82.65" y="718.3" font-size="40" fill="#000">0</text>
<path d="M112.69,705.50 L110.40,705.50 L110.40,690.94 Q109.58,691.73 108.23,692.51 Q106.90,693.30 105.83,693.69 L105.83,691.48 Q107.75,690.58 109.18,689.30 Q110.62,688.02 111.21,686.89 L112.69,686.89Z" fill="#000"/>
<path d="M122.90,751.00 L119.39,751.00 L119.39,728.60 Q118.12,729.81 116.05,731.02 Q114.00,732.23 112.36,732.84 L112.36,729.44 Q115.30,728.05 117.51,726.08 Q119.72,724.11 120.64,722.37 L122.90,722.37Z" fill="#000"/><text x="130.25" y="751" font-size="40" fill="#000">4</text>
<path d="M282.10,751.00 L278.59,751.00 L278.59,728.60 Q277.32,729.81 275.25,731.02 Q273.20,732.23 271.56,732.84 L271.56,729.44 Q274.50,728.05 276.71,726.08 Q278.92,724.11 279.84,722.37 L282.10,722.37Z" fill="#000"/><text x="289.45" y="751" font-size="40" fill="#000">5</text>
<path d="M440.40,751.00 L436.89,751.00 L436.89,728.60 Q435.62,729.81 433.55,731.02 Q431.50,732.23 429.86,732.84 L429.86,729.44 Q432.80,728.05 435.01,726.08 Q437.22,724.11 438.14,722.37 L440.40,722.37Z" fill="#000"/><text x="447.75" y="751" font-size="40" fill="#000">6</text>
<path d="M598.70,751.00 L595.19,751.00 L595.19,728.60 Q593.92,729.81 591.85,731.02 Q589.80,732.23 588.16,732.84 L588.16,729.44 Q591.10,728.05 593.31,726.08 Q595.52,724.11 596.44,722.37 L598.70,722.37Z" fill="#000"/><text x="606.05" y="751" font-size="40" fill="#000">7</text>
<text x="292" y="796.6" font-size="40" fill="#000" >2</text>
<text x="0" y="0" font-size="40" fill="#000" transform="translate(317.5,796.6) scale(1.24,1)" style="font-family:'Liberation Serif',serif;font-style:italic">&#952;</text>
<text x="346.6" y="796.6" font-size="39.2" fill="#000" >(deg.)</text>
<text x="0" y="0" font-size="39.2" fill="#000" transform="translate(39.0,695.8) rotate(-90)">Intensity (CPS)</text>
<text x="447.2" y="501.4" font-size="35" fill="#000" >pristine</text>
<text x="448.2" y="552.6" font-size="35" fill="#e60000" >etched</text>
<path d="M76.10,883.40 L72.59,883.40 L72.59,861.00 Q71.32,862.21 69.25,863.42 Q67.20,864.63 65.56,865.24 L65.56,861.84 Q68.50,860.45 70.71,858.48 Q72.92,856.51 73.84,854.77 L76.10,854.77Z" fill="#000"/><text x="83.45" y="883.4" font-size="40" fill="#000">.2</text>
<text x="60.80" y="980" font-size="40" fill="#000">0.8</text>
<text x="60.80" y="1077" font-size="40" fill="#000">0.4</text>
<text x="86.40" y="1173" font-size="40" fill="#000">0</text>
<text x="99.20" y="1209.2" font-size="40" fill="#000">-2</text>
<text x="225.40" y="1209.2" font-size="40" fill="#000">-</text><path d="M253.62,1209.20 L250.11,1209.20 L250.11,1186.80 Q248.84,1188.01 246.77,1189.22 Q244.72,1190.43 243.08,1191.04 L243.08,1187.64 Q246.03,1186.25 248.23,1184.28 Q250.44,1182.31 251.36,1180.57 L253.62,1180.57Z" fill="#000"/>
<text x="355.30" y="1209.2" font-size="40" fill="#000">0</text>
<path d="M486.90,1209.20 L483.39,1209.20 L483.39,1186.80 Q482.12,1188.01 480.05,1189.22 Q478.00,1190.43 476.36,1191.04 L476.36,1187.64 Q479.30,1186.25 481.51,1184.28 Q483.72,1182.31 484.64,1180.57 L486.90,1180.57Z" fill="#000"/>
<text x="586.80" y="1209.2" font-size="40" fill="#000">2</text>
<text x="280" y="1257.2" font-size="40" fill="#000" style="font-family:'Liberation Serif',serif;font-style:italic">&#969;</text>
<text x="315.4" y="1257.2" font-size="40" fill="#000" >(deg.)</text>
<text x="0" y="0" font-size="39.3" fill="#000" transform="translate(38.9,1167.3) rotate(-90)">Intensity (arb.unit)</text>
<text x="457.6" y="965.7" font-size="35" fill="#000" >pristine</text>
<text x="458.6" y="1016.6" font-size="35" fill="#e60000" >etched</text>
</svg>
</body></html>
